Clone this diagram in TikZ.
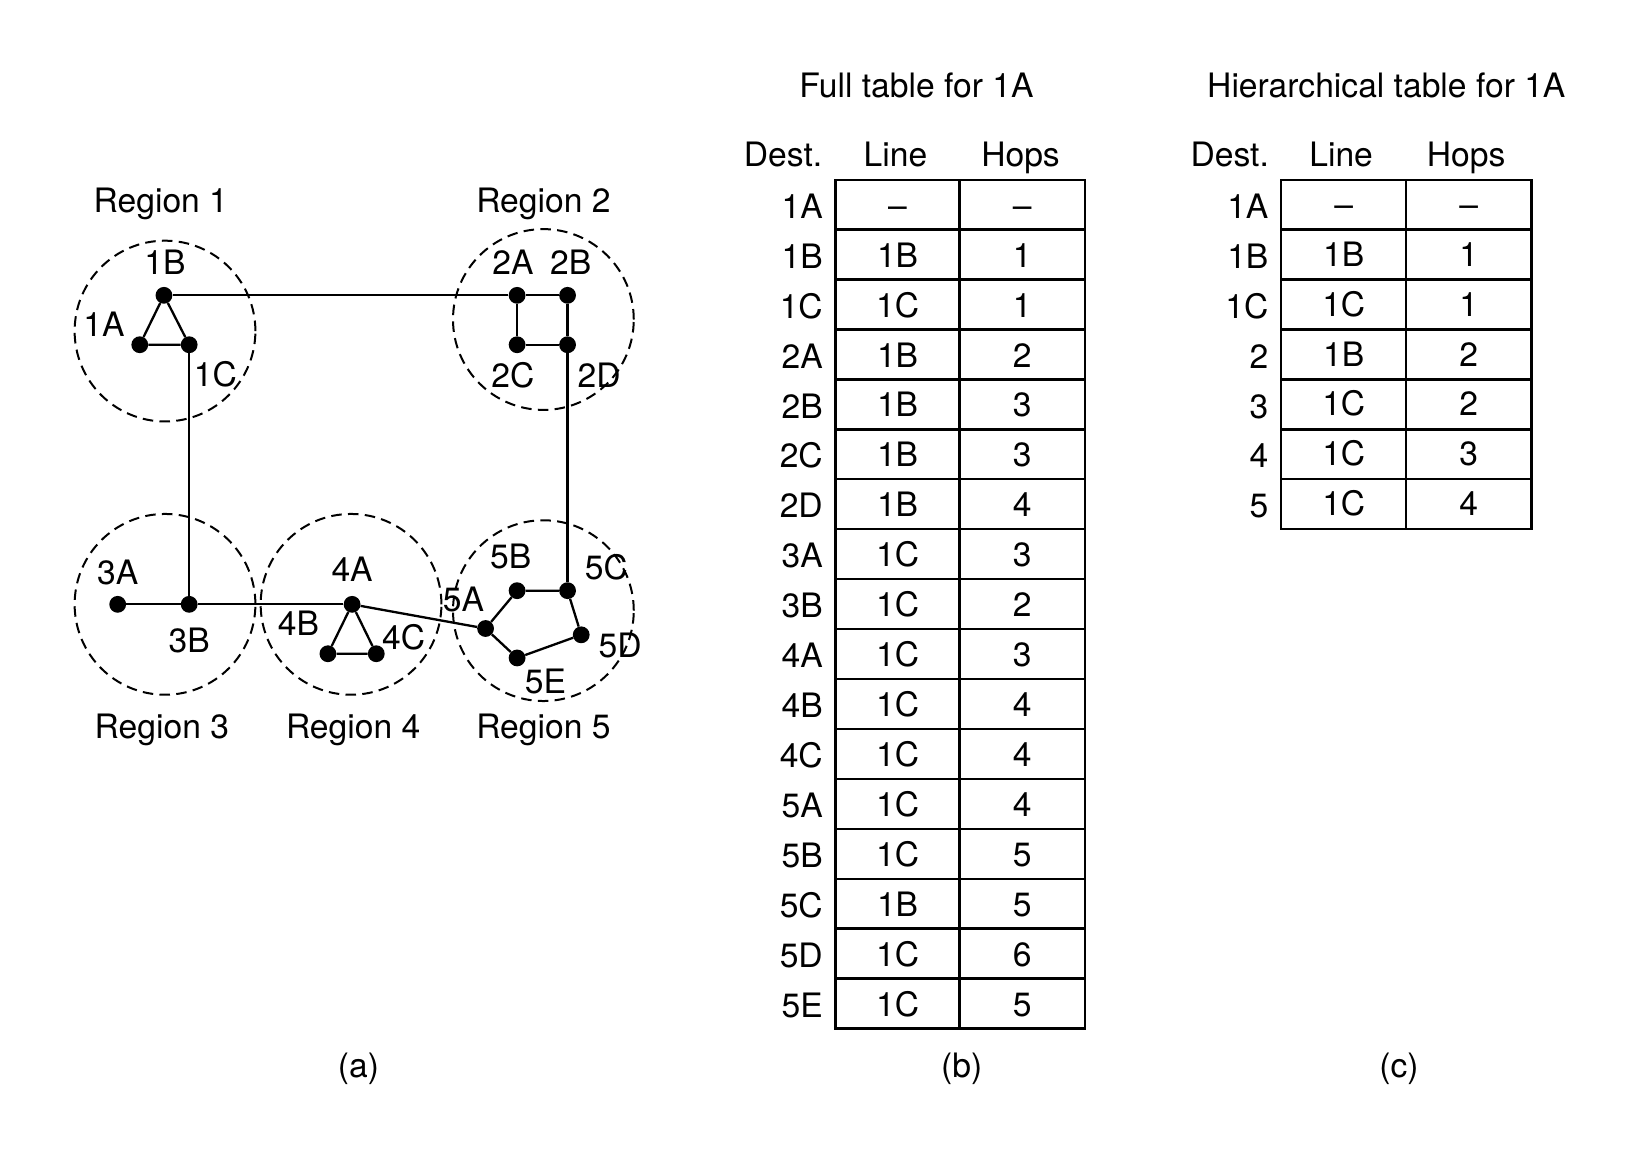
\documentclass[tikz,border=0pt]{standalone}
\usepackage{fontspec}
\setmainfont{TeX Gyre Heros}
\begin{document}
\begin{tikzpicture}[x=1pt,y=-1pt,
  font=\fontsize{32}{38}\selectfont,
  dot/.style={circle,fill=black,inner sep=0pt,minimum size=16pt},
  lbl/.style={anchor=base,inner sep=0pt},
  region/.style={draw,dash pattern=on 10pt off 6pt,line width=1.9pt},
  link/.style={line width=2.2pt},
  grid/.style={line width=2.2pt}]
\useasboundingbox (0,0) rectangle (1568,1094);

% regions
\draw[region] (157,315) circle[radius=86pt];
\draw[region] (517,304) circle[radius=86pt];
\draw[region] (157,575) circle[radius=86pt];
\draw[region] (334,575) circle[radius=86pt];
\draw[region] (517,581) circle[radius=86pt];

% routers
\node[dot] (d1A) at (133,328) {};
\node[dot] (d1B) at (156,281) {};
\node[dot] (d1C) at (180,328) {};
\node[dot] (d2A) at (492,281) {};
\node[dot] (d2B) at (540,281) {};
\node[dot] (d2C) at (492,328) {};
\node[dot] (d2D) at (540,328) {};
\node[dot] (d3A) at (112,575) {};
\node[dot] (d3B) at (180,575) {};
\node[dot] (d4A) at (335,575) {};
\node[dot] (d4B) at (312,622) {};
\node[dot] (d4C) at (358,622) {};
\node[dot] (d5A) at (462,598) {};
\node[dot] (d5B) at (492,562) {};
\node[dot] (d5C) at (540,562) {};
\node[dot] (d5D) at (553,604) {};
\node[dot] (d5E) at (492,626) {};

% links
\draw[link] (d1B) -- (d1A) -- (d1C) -- (d1B);
\draw[link] (d1B) -- (d2A);
\draw[link] (d2A) -- (d2B) -- (d2D) -- (d2C) -- (d2A);
\draw[link] (d1C) -- (d3B);
\draw[link] (d3A) -- (d3B) -- (d4A);
\draw[link] (d4A) -- (d4B) -- (d4C) -- (d4A);
\draw[link] (d4A) -- (d5A);
\draw[link] (d5A) -- (d5B) -- (d5C) -- (d5D) -- (d5E) -- (d5A);
\draw[link] (d2D) -- (d5C);

% labels
\node[lbl] (r1) at (153,202) {Region 1};
\node[lbl] (r2) at (517,202) {Region 2};
\node[lbl] (r3) at (154,703) {Region 3};
\node[lbl] (r4) at (336,703) {Region 4};
\node[lbl] (r5) at (517,703) {Region 5};
\node[lbl] (l1B) at (157,261) {1B};
\node[lbl] (l1A) at (99,320) {1A};
\node[lbl] (l1C) at (205,368) {1C};
\node[lbl] (l2A) at (488,261) {2A};
\node[lbl] (l2B) at (543,261) {2B};
\node[lbl] (l2C) at (488,369) {2C};
\node[lbl] (l2D) at (570,369) {2D};
\node[lbl] (l3A) at (112,556) {3A};
\node[lbl] (l3B) at (180,621) {3B};
\node[lbl] (l4A) at (335,553) {4A};
\node[lbl] (l4B) at (284,605) {4B};
\node[lbl] (l4C) at (384,618) {4C};
\node[lbl] (l5A) at (441,582) {5A};
\node[lbl] (l5B) at (486,541) {5B};
\node[lbl] (l5C) at (577,551) {5C};
\node[lbl] (l5D) at (590,626) {5D};
\node[lbl] (l5E) at (519,660) {5E};

% full table
\node[lbl] (ft) at (872,93) {Full table for 1A};
\node[lbl] (fhd) at (745,158) {Dest.};
\node[lbl] (fhl) at (852,158) {Line};
\node[lbl] (fhh) at (971,158) {Hops};
\draw[grid] (795,171) rectangle (1032,978.5);
\foreach \i in {1,...,16} \draw[grid] (795,{171+47.5*\i}) -- (1032,{171+47.5*\i});
\draw[grid] (913,171) -- (913,978.5);
\foreach \d/\l/\h [count=\i from 0] in {1A/\textendash/\textendash,1B/1B/1,1C/1C/1,2A/1B/2,2B/1B/3,2C/1B/3,2D/1B/4,3A/1C/3,3B/1C/2,4A/1C/3,4B/1C/4,4C/1C/4,5A/1C/4,5B/1C/5,5C/1B/5,5D/1C/6,5E/1C/5} {
  \node[lbl,anchor=base east] (fd\i) at (783,{171+47.5*(\i+0.5)+13}) {\d};
  \node[lbl] (fl\i) at (854,{171+47.5*(\i+0.5)+12}) {\l};
  \node[lbl] (fh\i) at (972.5,{171+47.5*(\i+0.5)+12}) {\h};
}

% hierarchical table
\node[lbl] (ht) at (1319,93) {Hierarchical table for 1A};
\node[lbl] (hhd) at (1170,158) {Dest.};
\node[lbl] (hhl) at (1276,158) {Line};
\node[lbl] (hhh) at (1395,158) {Hops};
\draw[grid] (1219,171) rectangle (1457,503.5);
\foreach \i in {1,...,6} \draw[grid] (1219,{171+47.5*\i}) -- (1457,{171+47.5*\i});
\draw[grid] (1338,171) -- (1338,503.5);
\foreach \d/\l/\h [count=\i from 0] in {1A/\textendash/\textendash,1B/1B/1,1C/1C/1,2/1B/2,3/1C/2,4/1C/3,5/1C/4} {
  \node[lbl,anchor=base east] (hd\i) at (1207,{171+47.5*(\i+0.5)+13}) {\d};
  \node[lbl] (hl\i) at (1278.5,{171+47.5*(\i+0.5)+11}) {\l};
  \node[lbl] (hh\i) at (1397.5,{171+47.5*(\i+0.5)+11}) {\h};
}

% captions
\node[lbl] (ca) at (341,1025) {(a)};
\node[lbl] (cb) at (915,1025) {(b)};
\node[lbl] (cc) at (1331,1025) {(c)};
\end{tikzpicture}
\end{document}
